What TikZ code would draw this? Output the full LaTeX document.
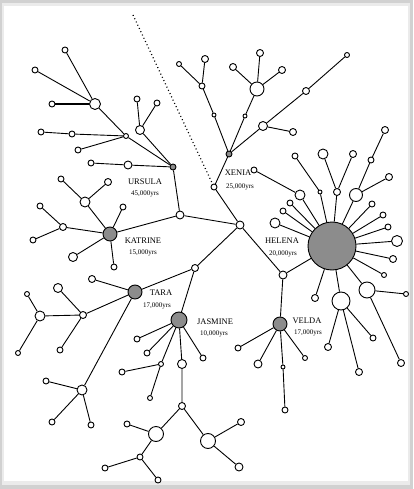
\documentclass[tikz,border=0pt]{standalone}
\usepackage{fontspec}
\setmainfont{Liberation Serif}

\begin{document}
\begin{tikzpicture}[x=1pt,y=-1pt,line width=0.9pt,
    hap/.style={circle,draw,fill=white,inner sep=0pt,minimum size=#1},hap/.default=6pt,
    founder/.style={circle,draw,fill=black!45,inner sep=0pt,minimum size=#1},founder/.default=14pt,
    clan/.style={font=\fontsize{8.5}{9}\selectfont},
    age/.style={font=\fontsize{7}{8}\selectfont}]
      \useasboundingbox (0,0) rectangle (413,489);
      \fill[black!18] (0,0) rectangle (413,489);
      \fill[black!8] (2,3) rectangle (410,485);
      \fill[white] (4,6) rectangle (408,481);

      % trunk
      \node[hap=8pt] (c1) at (240,225) {};
      \node[hap=8pt] (u1) at (180,215) {};
      \node[hap=7pt] (t0) at (195,268) {};
      \node[hap=8pt] (v0) at (283,275) {};
      \node[hap] (x0) at (214,187) {};
      \coordinate (ds) at (133,15);

      % founders
      \node[founder=6pt] (urs) at (173,167) {};
      \node[founder=6pt] (xen) at (229,154) {};
      \node[founder] (kat) at (110,234) {};
      \node[founder] (tar) at (135,292) {};
      \node[founder=16pt] (jas) at (179,320) {};
      \node[founder] (vel) at (280,324) {};
      \node[founder=48pt] (hel) at (332,246) {};

      % ursula
      \node[hap=11pt] (ua) at (95,104) {};
      \node[hap] (ua1) at (65,50) {};
      \node[hap] (ua2) at (35,70) {};
      \node[hap] (ua3) at (52,104) {};
      \node[hap=5pt] (ub) at (126,136) {};
      \node[hap] (ub1) at (72,134) {};
      \node[hap] (ub2) at (41,132) {};
      \node[hap] (ub3) at (78,150) {};
      \node[hap=9pt] (uc) at (140,130) {};
      \node[hap] (uc1) at (137,99) {};
      \node[hap] (uc2) at (157,103) {};
      \node[hap=8pt] (ud) at (128,165) {};
      \node[hap] (ud1) at (91,163) {};

      % xenia
      \node[hap=4pt] (xa) at (214,115) {};
      \node[hap] (xb) at (202,86) {};
      \node[hap=7pt] (xb1) at (205,59) {};
      \node[hap=5pt] (xb2) at (179,64) {};
      \node[hap=4pt] (xc) at (245,116) {};
      \node[hap=14pt] (xd) at (257,89) {};
      \node[hap=7pt] (xd1) at (233,67) {};
      \node[hap=7pt] (xd2) at (260,53) {};
      \node[hap=7pt] (xd3) at (282,70) {};
      \node[hap=9pt] (xe) at (263,126) {};
      \node[hap=7pt] (xe1) at (293,132) {};
      \node[hap=7pt] (xf) at (306,91) {};
      \node[hap=5pt] (xf1) at (347,55) {};

      % katrine
      \node[hap=10pt] (ka) at (85,202) {};
      \node[hap] (ka1) at (61,179) {};
      \node[hap=7pt] (ka2) at (108,182) {};
      \node[hap] (kb) at (123,207) {};
      \node[hap=7pt] (kc) at (63,227) {};
      \node[hap] (kc1) at (40,206) {};
      \node[hap] (kc2) at (33,240) {};
      \node[hap=9pt] (kd) at (73,257) {};
      \node[hap] (ke) at (114,267) {};

      % tara
      \node[hap=7pt] (ta) at (92,279) {};
      \node[hap=7pt] (tb) at (83,315) {};
      \node[hap=9pt] (tb1) at (58,288) {};
      \node[hap] (tb2) at (60,350) {};
      \node[hap=10pt] (tc) at (40,316) {};
      \node[hap=5pt] (tc1) at (27,294) {};
      \node[hap=5pt] (tc2) at (18,353) {};
      \node[hap=10pt] (td) at (82,390) {};
      \node[hap] (td1) at (46,381) {};
      \node[hap] (td2) at (52,422) {};
      \node[hap] (td3) at (91,425) {};

      % jasmine
      \node[hap] (ja) at (137,339) {};
      \node[hap] (jb) at (147,353) {};
      \node[hap=5pt] (jc) at (161,364) {};
      \node[hap] (jc1) at (122,372) {};
      \node[hap=5pt] (jc2) at (150,398) {};
      \node[hap=9pt] (jd) at (182,364) {};
      \node[hap] (je) at (203,358) {};
      \node[hap=7pt] (jf) at (182,406) {};
      \node[hap=15pt] (jg) at (156,434) {};
      \node[hap] (jg1) at (127,424) {};
      \node[hap] (jh) at (140,457) {};
      \node[hap] (jh1) at (105,468) {};
      \node[hap] (jh2) at (158,480) {};
      \node[hap=15pt] (ji) at (208,441) {};
      \node[hap=7pt] (ji1) at (241,422) {};
      \node[hap=8pt] (ji2) at (239,467) {};

      % velda
      \node[hap] (va) at (238,348) {};
      \node[hap=8pt] (vb) at (258,364) {};
      \node[hap=4pt] (vc) at (283,367) {};
      \node[hap] (vc1) at (285,410) {};
      \node[hap=5pt] (vd) at (305,358) {};

      % helena
      \node[hap=10pt] (ha) at (300,195) {};
      \node[hap] (ha1) at (254,170) {};
      \node[hap=4pt] (hb) at (320,192) {};
      \node[hap] (hb1) at (295,156) {};
      \node[hap=7pt] (hc) at (337,192) {};
      \node[hap=10pt] (hc1) at (323,154) {};
      \node[hap=7pt] (hc2) at (353,154) {};
      \node[hap=13pt] (hd) at (356,195) {};
      \node[hap=7pt] (hd1) at (389,177) {};
      \node[hap] (he) at (371,160) {};
      \node[hap=7pt] (he1) at (385,130) {};
      \node[hap] (hf) at (290,203) {};
      \node[hap] (hg) at (283,211) {};
      \node[hap=10pt] (hh) at (275,223) {};
      \node[hap] (hi) at (372,204) {};
      \node[hap] (hj) at (383,215) {};
      \node[hap] (hk) at (388,227) {};
      \node[hap=11pt] (hl) at (397,241) {};
      \node[hap=7pt] (hm) at (393,259) {};
      \node[hap=5pt] (hn) at (384,275) {};
      \node[hap=7pt] (ho) at (315,298) {};
      \node[hap=18pt] (hp) at (341,301) {};
      \node[hap=7pt] (hp1) at (328,347) {};
      \node[hap=7pt] (hp2) at (359,372) {};
      \node[hap] (hp3) at (373,338) {};
      \node[hap=16pt] (hq) at (367,290) {};
      \node[hap=5pt] (hq1) at (406,294) {};
      \node[hap=7pt] (hq2) at (401,363) {};

      \draw (urs) -- (u1) -- (c1) -- (x0) -- (xen);
      \draw (u1) -- (kat);
      \draw (c1) -- (v0) -- (hel);
      \draw (v0) -- (vel);
      \draw (c1) -- (t0) -- (tar);
      \draw (t0) -- (jas);
      \draw [line width=1.2pt,dash pattern=on 1pt off 2.6pt] (ds) -- (x0);

      \draw (urs) -- (ub) -- (ua) -- (ua1);
      \draw (ua) -- (ua2);
      \draw [line width=1.2pt] (ua) -- (ua3);
      \draw (ub) -- (ub1) -- (ub2);
      \draw (ub) -- (ub3);
      \draw (urs) -- (uc) -- (uc1);
      \draw (uc) -- (uc2);
      \draw (urs) -- (ud) -- (ud1);

      \draw (xen) -- (xa) -- (xb) -- (xb1);
      \draw (xb) -- (xb2);
      \draw (xen) -- (xc) -- (xd) -- (xd1);
      \draw (xd) -- (xd2);
      \draw (xd) -- (xd3);
      \draw (xen) -- (xe) -- (xe1);
      \draw (xe) -- (xf) -- (xf1);

      \draw (kat) -- (ka) -- (ka1);
      \draw (ka) -- (ka2);
      \draw (kat) -- (kb);
      \draw (kat) -- (kc) -- (kc1);
      \draw (kc) -- (kc2);
      \draw (kat) -- (kd);
      \draw (kat) -- (ke);

      \draw (tar) -- (ta);
      \draw (tar) -- (tb) -- (tb1);
      \draw (tb) -- (tb2);
      \draw (tb) -- (tc) -- (tc1);
      \draw (tc) -- (tc2);
      \draw (tar) -- (td) -- (td1);
      \draw (td) -- (td2);
      \draw (td) -- (td3);

      \draw (jas) -- (ja);
      \draw (jas) -- (jb);
      \draw (jas) -- (jc) -- (jc1);
      \draw (jc) -- (jc2);
      \draw (jas) -- (je);
      \draw (jas) -- (jd) -- (jf) -- (jg) -- (jg1);
      \draw (jg) -- (jh) -- (jh1);
      \draw (jh) -- (jh2);
      \draw (jf) -- (ji) -- (ji1);
      \draw (ji) -- (ji2);

      \draw (vel) -- (va);
      \draw (vel) -- (vb);
      \draw (vel) -- (vc) -- (vc1);
      \draw (vel) -- (vd);

      \draw (hel) -- (ha) -- (ha1);
      \draw (hel) -- (hb) -- (hb1);
      \draw (hel) -- (hc) -- (hc1);
      \draw (hc) -- (hc2);
      \draw (hel) -- (hd) -- (hd1);
      \draw (hd) -- (he) -- (he1);
      \draw (hel) -- (hf);
      \draw (hel) -- (hg);
      \draw (hel) -- (hh);
      \draw (hel) -- (hi);
      \draw (hel) -- (hj);
      \draw (hel) -- (hk);
      \draw (hel) -- (hl);
      \draw (hel) -- (hm);
      \draw (hel) -- (hn);
      \draw (hel) -- (ho);
      \draw (hel) -- (hp) -- (hp1);
      \draw (hp) -- (hp2);
      \draw (hp) -- (hp3);
      \draw (hel) -- (hq) -- (hq1);
      \draw (hq) -- (hq2);

      % clan names
      \node[clan] (lurs) at (145,182) {URSULA};
      \node[age] (aurs) at (145,194) {45,000yrs};
      \node[clan] (lxen) at (238,173) {XENIA};
      \node[age] (axen) at (240,187) {25,000yrs};
      \node[clan] (lkat) at (143,241) {KATRINE};
      \node[age] (akat) at (143,253) {15,000yrs};
      \node[clan] (ltar) at (161,293) {TARA};
      \node[age] (atar) at (157,306) {17,000yrs};
      \node[clan] (ljas) at (215,322) {JASMINE};
      \node[age] (ajas) at (214,334) {10,000yrs};
      \node[clan] (lvel) at (307,321) {VELDA};
      \node[age] (avel) at (308,333) {17,000yrs};
      \node[clan] (lhel) at (282,241) {HELENA};
      \node[age] (ahel) at (283,254) {20,000yrs};

    \end{tikzpicture}
\end{document}
